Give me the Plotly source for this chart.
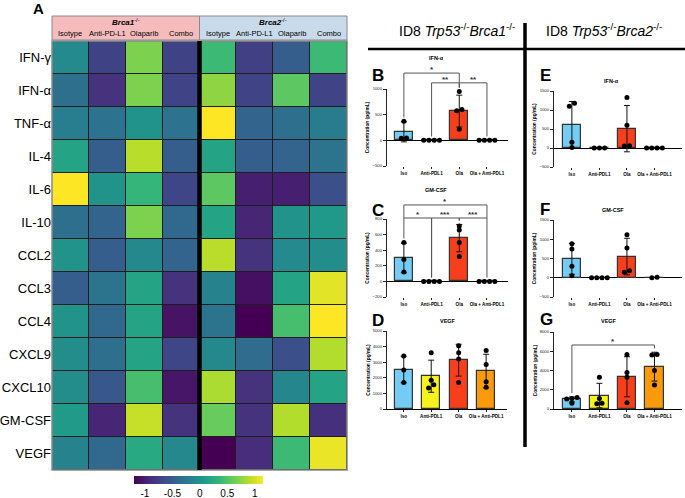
import numpy as np
import plotly.graph_objects as go

W, H = 685, 498
FONT = "Liberation Sans, Arial, Helvetica, sans-serif"


def px(x):
    return x / W


def py(y):
    return 1 - y / H


# ---------------- Heatmap data (panel A) ----------------
cytokines = ["IFN-γ", "IFN-α", "TNF-α", "IL-4", "IL-6", "IL-10", "CCL2",
             "CCL3", "CCL4", "CXCL9", "CXCL10", "GM-CSF", "VEGF"]
heat_cols = ["Brca1 Isotype", "Brca1 Anti-PD-L1", "Brca1 Olaparib", "Brca1 Combo",
             "Brca2 Isotype", "Brca2 Anti-PD-L1", "Brca2 Olaparib", "Brca2 Combo"]
col_labels = ["Isotype", "Anti-PD-L1", "Olaparib", "Combo",
              "Isotype", "Anti-PD-L1", "Olaparib", "Combo"]
heat_z = [
    [-0.08, -0.73, 0.68, -0.73, 0.40, -0.75, -0.50, 0.40],
    [-0.35, -0.85, 0.68, -0.72, 0.75, -0.72, 0.55, -0.72],
    [-0.20, -0.32, 0.00, -0.32, 1.15, -0.45, -0.35, -0.22],
    [0.17, -0.50, 0.90, -0.50, 0.17, -0.50, -0.45, -0.30],
    [1.15, 0.00, 0.35, -0.70, 0.55, -1.00, -1.00, -0.62],
    [-0.35, -0.45, 0.68, -0.42, 0.17, -0.95, 0.00, 0.05],
    [0.00, -0.50, -0.10, -0.45, 0.90, -0.85, -0.08, -0.05],
    [-0.50, -0.30, 0.17, -0.85, -0.15, -1.10, 0.17, 1.05],
    [0.00, -0.42, 0.17, -1.08, -0.30, -1.20, 0.45, 1.15],
    [-0.05, -0.35, 0.17, -0.70, -0.10, -0.38, -0.62, 0.88],
    [-0.05, -0.55, 0.45, -1.05, 0.85, -0.85, -0.12, 0.17],
    [0.08, -0.95, 0.95, -0.85, 0.60, -0.85, 0.88, -0.88],
    [-0.15, -0.42, 0.22, -0.10, -1.20, -0.90, 0.40, 1.08],
]
cbar_ticks = [-1, -0.5, 0, 0.5, 1]
cbar_text = ["-1", "-0.5", "0", "0.5", "1"]

# ---------------- Bar chart data (panels B-G) ----------------
groups = ["Iso", "Anti-PDL1", "Ola", "Ola + Anti-PDL1"]
bar_colors = ["#74ccf4", "#f7f11c", "#f7401b", "#f99a0d"]

ifna_brca1_mean = [165, 0, 570, 0]
ifna_brca1_sd = [195, 0, 310, 0]
ifna_brca1_pts = [[370, 45, 40], [0, 0, 0, 0], [950, 600, 575, 215], [0, 0, 0, 0]]

gmcsf_brca1_mean = [300, 0, 555, 0]
gmcsf_brca1_sd = [190, 0, 175, 0]
gmcsf_brca1_pts = [[500, 280, 120], [0, 0, 0, 0], [710, 660, 500, 320], [0, 0, 0, 0]]

vegf_brca1_mean = [2530, 2100, 3130, 2430]
vegf_brca1_sd = [850, 1030, 1020, 1080]
vegf_brca1_pts = [[3400, 2500, 1700], [3600, 1850, 1550, 1350],
                  [4050, 3600, 3200, 1700], [3750, 2850, 1750, 1400]]

ifna_brca2_mean = [610, 0, 510, 0]
ifna_brca2_sd = [615, 0, 610, 0]
ifna_brca2_pts = [[1180, 1100, 150, 10], [0, 0, 0], [1330, 600, 60, 50], [0, 0, 0, 0]]

gmcsf_brca2_mean = [490, 0, 550, 5]
gmcsf_brca2_sd = [400, 0, 475, 0]
gmcsf_brca2_pts = [[880, 750, 300, 50], [0, 0, 0, 0], [1120, 770, 180, 140], [0, 15]]

vegf_brca2_mean = [990, 1400, 3350, 4400]
vegf_brca2_sd = [260, 1270, 2080, 1500]
vegf_brca2_pts = [[1200, 1100, 1050, 600], [3300, 1100, 600, 550],
                  [5650, 3800, 3300, 650], [5650, 5600, 4000, 2500]]

# significance comparisons: (group i, group j, bracket level, label)
sig_ifna_brca1 = [(0, 2, 1310, "*"), (1, 2, 1120, "**"), (2, 3, 1120, "**")]
sig_gmcsf_brca1 = [(0, 3, 980, "*"), (0, 1, 813, "*"), (1, 2, 813, "***"), (2, 3, 813, "***")]
sig_vegf_brca2 = [(0, 3, 6650, "*")]

fig = go.Figure()
shapes = []
annotations = []

# ---------------- Panel A heatmap ----------------
fig.add_trace(go.Heatmap(
    z=heat_z, x=heat_cols, y=cytokines, colorscale="Viridis",
    zmin=-1.2, zmax=1.15, xgap=1, ygap=1, xaxis="x", yaxis="y",
    hoverinfo="skip",
    colorbar=dict(orientation="h", x=px(198.5), xanchor="center", y=py(476),
                  yanchor="top", len=129, lenmode="pixels", thickness=8,
                  tickvals=cbar_ticks, ticktext=cbar_text, ticks="",
                  tickfont=dict(size=10, family=FONT, color="black"),
                  outlinewidth=0, xpad=0, ypad=0),
))

layout_axes = dict(
    xaxis=dict(domain=[px(52), px(347)], range=[-0.5, 7.5], showticklabels=False,
               showgrid=False, zeroline=False, anchor="y", ticks="", automargin=False),
    yaxis=dict(domain=[py(470), py(41)], range=[12.5, -0.5], showgrid=False,
               zeroline=False, anchor="x", ticks="", automargin=False,
               tickfont=dict(size=13, family=FONT, color="black")),
)

# dark background behind heatmap (cell borders)
shapes.append(dict(type="rect", xref="x domain", yref="y domain", x0=0, x1=1, y0=0, y1=1,
                   fillcolor="#1e1e1e", line=dict(width=0), layer="below"))
shapes.append(dict(type="rect", xref="x domain", yref="y domain", x0=0, x1=1, y0=0, y1=1,
                   line=dict(color="#8a8a8a", width=1.5), layer="above"))
shapes.append(dict(type="line", xref="x", yref="y domain", x0=3.5, x1=3.5, y0=0, y1=1,
                   line=dict(color="black", width=4.5), layer="above"))

# header boxes
shapes.append(dict(type="rect", xref="paper", yref="paper", x0=px(52), x1=px(199.5),
                   y0=py(40), y1=py(16), fillcolor="#f6bcbd", line=dict(color="#8a8a8a", width=1)))
shapes.append(dict(type="rect", xref="paper", yref="paper", x0=px(199.5), x1=px(347),
                   y0=py(40), y1=py(16), fillcolor="#c9dbea", line=dict(color="#8a8a8a", width=1)))
annotations.append(dict(text="<b><i>Brca1</i></b><sup>-/-</sup>", x=px(126), y=py(22),
                        xref="paper", yref="paper", showarrow=False, xanchor="center",
                        yanchor="middle", font=dict(size=8, family=FONT, color="black")))
annotations.append(dict(text="<b><i>Brca2</i></b><sup>-/-</sup>", x=px(273), y=py(22),
                        xref="paper", yref="paper", showarrow=False, xanchor="center",
                        yanchor="middle", font=dict(size=8, family=FONT, color="black")))
for c, lab in zip(heat_cols, col_labels):
    annotations.append(dict(text=lab, x=c, y=py(33.5), xref="x", yref="paper",
                            showarrow=False, xanchor="center", yanchor="middle",
                            font=dict(size=7.5, family=FONT, color="black")))
annotations.append(dict(text="<b>A</b>", x=px(31), y=py(-2), xref="paper", yref="paper",
                        showarrow=False, xanchor="left", yanchor="top",
                        font=dict(size=15, family=FONT, color="black")))

# ---------------- Bar panels ----------------
def swarm(vals, span, step=0.19, tol=0.045):
    vals = np.asarray(vals, dtype=float)
    order = np.argsort(vals)
    offs = np.zeros(len(vals))
    grp = []
    for idx in order:
        if grp and abs(vals[idx] - vals[grp[-1][-1]]) <= tol * span:
            grp[-1].append(idx)
        else:
            grp.append([idx])
    for g in grp:
        n = len(g)
        for k, idx in enumerate(g):
            offs[idx] = (k - (n - 1) / 2) * step
    return offs


panels = [
    # letter, title, mean, sd, pts, yrange, dtick, xdom px, ydom px, xrange, sig, title xy, letter xy
    ("B", "IFN-α", ifna_brca1_mean, ifna_brca1_sd, ifna_brca1_pts, [-500, 1000], 500,
     (387, 508), (89, 166), [-0.61, 3.76], sig_ifna_brca1, (436, 58), (370, 64)),
    ("C", "GM-CSF", gmcsf_brca1_mean, gmcsf_brca1_sd, gmcsf_brca1_pts, [-200, 800], 200,
     (387, 508), (219, 297), [-0.61, 3.76], sig_gmcsf_brca1, (436, 190), (370, 199)),
    ("D", "VEGF", vegf_brca1_mean, vegf_brca1_sd, vegf_brca1_pts, [0, 5000], 1000,
     (387, 507), (331, 409), [-0.61, 3.76], [], (448, 321), (370, 309)),
    ("E", "IFN-α", ifna_brca2_mean, ifna_brca2_sd, ifna_brca2_pts, [-500, 1500], 500,
     (554, 682), (91, 167), [-0.65, 4.0], [], (611, 81), (538, 64)),
    ("F", "GM-CSF", gmcsf_brca2_mean, gmcsf_brca2_sd, gmcsf_brca2_pts, [-500, 1500], 500,
     (554, 682), (220, 297), [-0.65, 4.0], [], (613, 210), (538, 198)),
    ("G", "VEGF", vegf_brca2_mean, vegf_brca2_sd, vegf_brca2_pts, [0, 8000], 2000,
     (554, 682), (332, 409), [-0.65, 4.0], sig_vegf_brca2, (609, 321), (538, 308)),
]

idx = list(range(len(groups)))
for k, (letter, title, mean, sd, pts, yr, dt, xd, yd, xr, sig, tpos, lpos) in enumerate(panels):
    n = k + 2
    xa, ya = f"x{n}", f"y{n}"
    span = yr[1] - yr[0]
    fig.add_trace(go.Bar(
        x=idx[:len(mean)], y=mean, width=0.66, xaxis=xa, yaxis=ya,
        marker=dict(color=bar_colors, line=dict(color="#333333", width=1.2)),
        error_y=dict(type="data", array=sd, color="#111111", thickness=1, width=3),
        hoverinfo="skip",
    ))
    for gi, vals in enumerate(pts):
        offs = swarm(vals, span)
        fig.add_trace(go.Scatter(
            x=[gi + o for o in offs], y=vals, mode="markers", xaxis=xa, yaxis=ya,
            marker=dict(color="black", size=5), hoverinfo="skip", cliponaxis=False,
        ))
    has_neg = yr[0] < 0
    layout_axes[f"xaxis{n}"] = dict(
        domain=[px(xd[0]), px(xd[1])], range=xr, anchor=ya, tickvals=idx, ticktext=groups,
        showgrid=False, zeroline=False, showline=not has_neg, linecolor="black", linewidth=1.3,
        ticks="outside", ticklen=2, tickwidth=1, tickcolor="#222", automargin=False,
        tickfont=dict(size=4.6, family=FONT, color="black", weight="bold"),
    )
    layout_axes[f"yaxis{n}"] = dict(
        domain=[py(yd[1]), py(yd[0])], range=yr, dtick=dt, tick0=0, anchor=xa,
        showgrid=False, zeroline=has_neg, zerolinecolor="black", zerolinewidth=1.3,
        showline=True, linecolor="#222", linewidth=1.3, ticks="outside", ticklen=3,
        tickwidth=1, tickcolor="#222", tickformat="d", automargin=False,
        tickfont=dict(size=4.2, family=FONT, color="#222"),
        title=dict(text="<b>Concentration (pg/mL)</b>", standoff=2,
                   font=dict(size=4.8, family=FONT, color="black")),
    )
    # titles and letters
    annotations.append(dict(text=f"<b>{title}</b>", x=px(tpos[0]), y=py(tpos[1]),
                            xref="paper", yref="paper", showarrow=False, xanchor="center",
                            yanchor="middle", font=dict(size=5.5, family=FONT, color="black")))
    annotations.append(dict(text=f"<b>{letter}</b>", x=px(lpos[0]), y=py(lpos[1]),
                            xref="paper", yref="paper", showarrow=False, xanchor="left",
                            yanchor="top", font=dict(size=17, family=FONT, color="black")))
    # significance brackets
    tops = [max(m + s, max(p)) + 0.05 * span for m, s, p in zip(mean, sd, pts)]

    def fx(i):
        return (i - xr[0]) / (xr[1] - xr[0])

    def fy(v):
        return (v - yr[0]) / span

    for (i, j, level, lab) in sig:
        lows = []
        for g in (i, j):
            lower = [c[2] for c in sig if c[2] < level and g in (c[0], c[1])]
            lows.append(min(max([tops[g]] + lower), level))
        xi, xj, yl = fx(i), fx(j), fy(level)
        segs = [(xi, fy(lows[0]), xi, yl), (xi, yl, xj, yl), (xj, yl, xj, fy(lows[1]))]
        for (x0, y0, x1, y1) in segs:
            shapes.append(dict(type="line", xref=f"{xa} domain", yref=f"{ya} domain",
                               x0=x0, y0=y0, x1=x1, y1=y1,
                               line=dict(color="#555555", width=1)))
        annotations.append(dict(text=f"<b>{lab}</b>", x=(xi + xj) / 2, y=yl,
                                xref=f"{xa} domain", yref=f"{ya} domain", showarrow=False,
                                xanchor="center", yanchor="bottom", yshift=-3,
                                font=dict(size=8, family=FONT, color="#333")))

# column headers and separator lines on the right
annotations.append(dict(text="ID8 <i>Trp53</i><sup>-/-</sup><i>Brca1</i><sup>-/-</sup>",
                        x=px(457), y=py(30), xref="paper", yref="paper", showarrow=False,
                        xanchor="center", yanchor="middle",
                        font=dict(size=14, family=FONT, color="black")))
annotations.append(dict(text="ID8 <i>Trp53</i><sup>-/-</sup><i>Brca2</i><sup>-/-</sup>",
                        x=px(604), y=py(30), xref="paper", yref="paper", showarrow=False,
                        xanchor="center", yanchor="middle",
                        font=dict(size=14, family=FONT, color="black")))
shapes.append(dict(type="line", xref="paper", yref="paper", x0=px(368), x1=px(685),
                   y0=py(49), y1=py(49), line=dict(color="black", width=2.5)))
shapes.append(dict(type="line", xref="paper", yref="paper", x0=px(525), x1=px(525),
                   y0=py(23), y1=py(447), line=dict(color="black", width=3.5)))

fig.update_layout(
    width=W, height=H, margin=dict(l=0, r=0, t=0, b=0, autoexpand=False),
    paper_bgcolor="white", plot_bgcolor="white", showlegend=False,
    font=dict(family=FONT, color="black"),
    shapes=shapes, annotations=annotations, bargap=0,
    **layout_axes,
)

# remove the browser's default 8px page margin so the figure fills the window exactly
fig.write_html("out.html", config={"displayModeBar": False},
               post_script="document.body.style.margin='0px';")
